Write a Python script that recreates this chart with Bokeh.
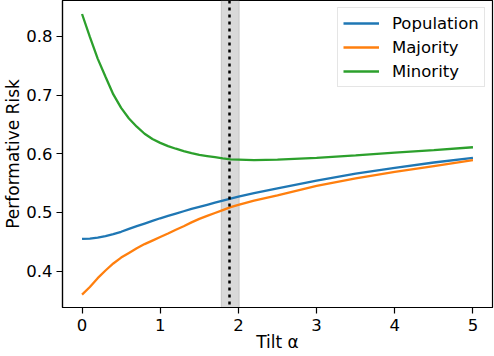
from bokeh.plotting import figure
from bokeh.models import Span, BoxAnnotation, Legend, LegendItem, FixedTicker, ColumnDataSource
from bokeh.embed import file_html
from bokeh.resources import INLINE

# ---- data ----
tilt = [0.0, 0.1, 0.2, 0.3, 0.4, 0.5, 0.6, 0.7, 0.8, 0.9, 1.0,
        1.1, 1.2, 1.3, 1.4, 1.5, 1.6, 1.7, 1.8, 1.9, 2.0,
        2.2, 2.5, 3.0, 3.5, 4.0, 4.5, 5.0]
population = [0.455, 0.4555, 0.457, 0.4595, 0.463, 0.467, 0.472, 0.4765, 0.481, 0.4855, 0.490,
              0.494, 0.498, 0.502, 0.506, 0.5095, 0.513, 0.5165, 0.520, 0.5235, 0.527,
              0.533, 0.541, 0.554, 0.566, 0.576, 0.585, 0.593]
majority = [0.360, 0.373, 0.388, 0.401, 0.413, 0.423, 0.431, 0.439, 0.446, 0.452, 0.458,
            0.464, 0.4705, 0.4765, 0.483, 0.489, 0.494, 0.499, 0.504, 0.509, 0.513,
            0.520, 0.529, 0.545, 0.558, 0.569, 0.579, 0.589]
minority = [0.838, 0.799, 0.762, 0.731, 0.701, 0.678, 0.660, 0.646, 0.634, 0.625, 0.6185,
            0.613, 0.6085, 0.6045, 0.601, 0.598, 0.596, 0.594, 0.592, 0.5905, 0.590,
            0.589, 0.590, 0.593, 0.597, 0.602, 0.606, 0.611]
series_names = ["Population", "Majority", "Minority"]
series_colors = ["#1f77b4", "#ff7f0e", "#2ca02c"]

opt_tilt = 1.886          # dotted vertical line
opt_band = (1.78, 2.01)   # shaded interval

x_ticks = [0, 1, 2, 3, 4, 5]
y_ticks = [0.4, 0.5, 0.6, 0.7, 0.8]

FONT = "DejaVu Sans"
FS = "16.5px"
FS_LABEL = "17px"

src = ColumnDataSource(dict(tilt=tilt, Population=population,
                            Majority=majority, Minority=minority))

p = figure(width=494, height=356, output_backend="svg", toolbar_location=None,
           title=None, x_range=(-0.25, 5.25), y_range=(0.338, 0.861),
           min_border_left=62, min_border_right=2, min_border_top=0,
           min_border_bottom=49)

p.background_fill_color = "white"
p.border_fill_color = "white"
p.outline_line_color = "black"
p.outline_line_width = 1.2
p.xgrid.visible = False
p.ygrid.visible = False

band = BoxAnnotation(left=opt_band[0], right=opt_band[1], fill_color="gray",
                     fill_alpha=0.3, line_color="gray", line_alpha=0.3,
                     level="underlay")
p.add_layout(band)

renderers = []
for name, col in zip(series_names, series_colors):
    r = p.line("tilt", name, source=src, line_color=col, line_width=2.3)
    renderers.append(r)

vline = Span(location=opt_tilt, dimension="height", line_color="black",
             line_dash="3 4", line_width=2.5)
p.add_layout(vline)

for ax in (p.xaxis[0], p.yaxis[0]):
    ax.axis_line_color = "black"
    ax.axis_line_width = 1.2
    ax.major_tick_line_color = "black"
    ax.major_tick_line_width = 1.2
    ax.major_tick_out = 6
    ax.major_tick_in = 0
    ax.minor_tick_line_color = None
    ax.major_label_text_font = FONT
    ax.major_label_text_font_size = FS
    ax.major_label_text_color = "black"
    ax.major_label_text_line_height = 1.0
    ax.axis_label_text_font = FONT
    ax.axis_label_text_font_size = FS_LABEL
    ax.axis_label_text_font_style = "normal"
    ax.axis_label_text_color = "black"
    ax.axis_label_text_line_height = 1.0

p.xaxis.ticker = FixedTicker(ticks=x_ticks)
p.yaxis.ticker = FixedTicker(ticks=y_ticks)
p.xaxis.axis_label = "Tilt α"
p.yaxis.axis_label = "Performative Risk"
p.xaxis.major_label_standoff = 5
p.yaxis.major_label_standoff = 4
p.xaxis.axis_label_standoff = -2
p.yaxis.axis_label_standoff = 0

legend = Legend(items=[LegendItem(label=n, renderers=[r])
                       for n, r in zip(series_names, renderers)],
                location=(275, 220))
legend.label_text_font = FONT
legend.label_text_font_size = FS
legend.label_text_color = "black"
legend.padding = 5
legend.spacing = 4
legend.margin = 0
legend.label_height = 20
legend.glyph_height = 20
legend.glyph_width = 36
legend.label_standoff = 13
legend.border_line_color = "#cccccc"
legend.border_line_width = 1
legend.background_fill_color = "white"
legend.background_fill_alpha = 0.8
p.add_layout(legend)

open("out.html", "w").write(file_html(p, INLINE))
